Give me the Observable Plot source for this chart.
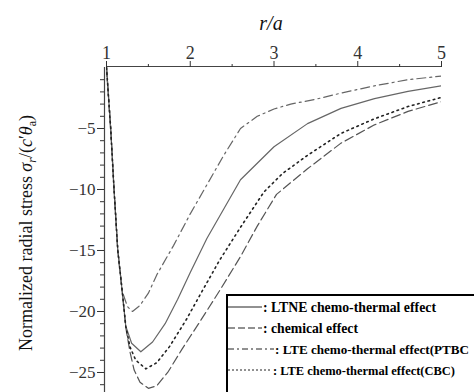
<!DOCTYPE html>
<html>
<head>
<meta charset="utf-8">
<script src="https://cdn.jsdelivr.net/npm/d3@7"></script>
<script src="https://cdn.jsdelivr.net/npm/@observablehq/plot@0.6"></script>
<style>
  html, body { margin: 0; padding: 0; background: #fff; }
  svg { display: block; }
</style>
</head>
<body>
<script>
// ---- data ----
const xTicks = [1, 2, 3, 4, 5];
const xMinorTicks = [1.5, 2.5, 3.5, 4.5];
const yTicks = [-5, -10, -15, -20, -25];
const yMinorTicks = [-1,-2,-3,-4,-6,-7,-8,-9,-11,-12,-13,-14,-16,-17,-18,-19,-21,-22,-23,-24,-26];

// LTNE chemo-thermal effect (solid)
const ltneR = [1.00,1.05,1.09,1.135,1.19,1.23,1.30,1.41,1.55,1.70,1.85,2.00,2.20,2.40,2.60,3.00,3.40,3.80,4.20,4.60,5.00];
const ltneV = [0,-5,-10,-15,-18.5,-21.2,-22.6,-23.3,-22.5,-21.0,-19.0,-16.8,-14.0,-11.6,-9.2,-6.5,-4.6,-3.35,-2.55,-1.95,-1.5];

// chemical effect (dashed)
const chemR = [1.00,1.05,1.09,1.135,1.19,1.23,1.28,1.33,1.40,1.50,1.60,1.74,1.90,2.10,2.35,2.60,2.80,3.03,3.40,3.80,4.20,4.60,5.00];
const chemV = [0,-5,-10,-15,-18.5,-21.3,-23.3,-24.8,-25.8,-26.3,-26.1,-24.9,-23.1,-21.0,-18.3,-15.5,-13.0,-10.4,-8.3,-6.2,-4.7,-3.6,-2.8];

// LTE chemo-thermal effect (PTBC) (dash-dot)
const ptbcR = [1.00,1.05,1.09,1.135,1.19,1.25,1.31,1.40,1.50,1.60,1.80,2.00,2.20,2.40,2.60,2.80,3.00,3.20,3.50,3.80,4.20,4.60,5.00];
const ptbcV = [0,-5,-10,-15,-18.4,-19.6,-20.0,-19.5,-18.5,-17.0,-14.6,-12.0,-9.6,-7.2,-5.0,-4.0,-3.4,-3.0,-2.6,-2.1,-1.5,-1.0,-0.7];

// LTE chemo-thermal effect (CBC) (dotted)
const cbcR = [1.00,1.05,1.09,1.135,1.19,1.23,1.28,1.35,1.47,1.60,1.75,1.95,2.12,2.35,2.60,2.88,3.10,3.40,3.80,4.20,4.60,5.00];
const cbcV = [0,-5,-10,-15,-18.5,-21.2,-22.9,-24.0,-24.7,-24.2,-22.9,-20.7,-18.6,-15.8,-13.1,-10.2,-8.7,-7.2,-5.4,-4.2,-3.2,-2.45];

const seriesNames = [
  "LTNE chemo-thermal effect",
  "chemical effect",
  "LTE chemo-thermal effect(PTBC",
  "LTE chemo-thermal effect(CBC)"
];

const toRows = (rs, vs) => rs.map((r, i) => ({r, v: vs[i]}));
const ltne = toRows(ltneR, ltneV);
const chem = toRows(chemR, chemV);
const ptbc = toRows(ptbcR, ptbcV);
const cbc = toRows(cbcR, cbcV);

const styles = [
  {stroke: "#666", strokeWidth: 1.2, dash: null},
  {stroke: "#555", strokeWidth: 1.2, dash: "9,4"},
  {stroke: "#666", strokeWidth: 1.2, dash: "9,4,2,4"},
  {stroke: "#222", strokeWidth: 1.6, dash: "1.6,3.8"}
];
const datasets = [ltne, chem, ptbc, cbc];

const FF = "'Liberation Serif', 'Times New Roman', serif";

const lineMarks = datasets.map((d, i) => Plot.line(d, {
  x: "r", y: "v", stroke: styles[i].stroke, strokeWidth: styles[i].strokeWidth,
  strokeDasharray: styles[i].dash, clip: true
}));

const chart = Plot.plot({
  width: 474,
  height: 392,
  marginTop: 67,
  marginLeft: 106,
  marginRight: 33,
  marginBottom: 0,
  style: {fontFamily: FF, background: "#fff", overflow: "hidden"},
  x: {domain: [1, 5]},
  y: {domain: [-26.64, 0]},
  marks: [
    ...lineMarks,
    Plot.ruleY([0], {stroke: "#444", strokeWidth: 1.2, dy: -1}),
    Plot.ruleX([1], {stroke: "#444", strokeWidth: 1.2, dx: -2}),
    Plot.axisX({anchor: "top", ticks: xTicks, tickFormat: d => String(d), tickSize: 6, tickPadding: 2, fontSize: 18, fontFamily: FF, label: null, dy: -1, color: "#333"}),
    Plot.axisX({anchor: "top", ticks: xMinorTicks, tickSize: 3, tickFormat: () => "", label: null, dy: -1, color: "#333"}),
    Plot.axisY({anchor: "left", ticks: yTicks, tickFormat: d => "\u2212" + Math.abs(d), tickSize: 7, tickPadding: 2, fontSize: 17, fontFamily: FF, label: null, dx: -2, color: "#333"}),
    Plot.axisY({anchor: "left", ticks: yMinorTicks, tickSize: 4, tickFormat: () => "", label: null, dx: -2, color: "#333"})
  ]
});

document.body.appendChild(chart);
const svg = d3.select(chart);
svg.selectAll("text").attr("font-family", FF);

// top axis title
svg.append("text")
  .attr("x", 271).attr("y", 30)
  .attr("text-anchor", "middle")
  .attr("font-family", FF).attr("font-size", 20).attr("font-style", "italic")
  .attr("fill", "#111")
  .text("r/a");

// left axis title
const yt = svg.append("text")
  .attr("transform", "translate(32,233) rotate(-90)")
  .attr("text-anchor", "middle")
  .attr("font-family", FF).attr("font-size", 18).attr("fill", "#111");
yt.append("tspan").text("Normalized radial stress ");
yt.append("tspan").attr("font-style", "italic").text("σ");
yt.append("tspan").attr("font-style", "italic").attr("font-size", 12).attr("dy", 4).text("r");
yt.append("tspan").attr("dy", -4).text("/(");
yt.append("tspan").attr("font-style", "italic").text("c");
yt.append("tspan").text("′");
yt.append("tspan").attr("font-style", "italic").text("θ");
yt.append("tspan").attr("font-size", 12).attr("dy", 4).text("a");
yt.append("tspan").attr("dy", -4).text(")");

// legend box
const lg = svg.append("g").attr("text-anchor", "start");
lg.append("rect")
  .attr("x", 227).attr("y", 295).attr("width", 260).attr("height", 120)
  .attr("fill", "#fff").attr("stroke", "#000").attr("stroke-width", 2);
const rowY = [307, 328, 349, 370];
const lineEnd = [262, 262, 274, 272];
const textX = [263, 263, 275, 273];
const textLen = [173, 95, 194, 182];
const textSize = [14, 14, 13, 13];
seriesNames.forEach((name, i) => {
  lg.append("line")
    .attr("x1", 228).attr("x2", lineEnd[i]).attr("y1", rowY[i]).attr("y2", rowY[i])
    .attr("stroke", "#222")
    .attr("stroke-width", 1)
    .attr("stroke-dasharray", i === 0 ? null : i === 1 ? "7,3" : i === 2 ? "6,3,2,3" : "2,2");
  lg.append("text")
    .attr("x", textX[i]).attr("y", rowY[i] + 5)
    .attr("text-anchor", "start")
    .attr("font-family", FF).attr("font-size", textSize[i]).attr("font-weight", "bold")
    .attr("textLength", textLen[i]).attr("lengthAdjust", "spacingAndGlyphs")
    .attr("fill", "#000")
    .text(": " + name);
});
</script>
</body>
</html>
